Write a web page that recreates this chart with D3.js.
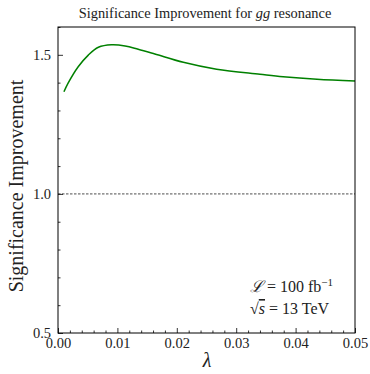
<!DOCTYPE html>
<html>
<head>
<meta charset="utf-8">
<script src="https://cdn.jsdelivr.net/npm/d3@7"></script>
<style>
  html, body { margin: 0; padding: 0; background: #fff; }
  svg { display: block; }
</style>
</head>
<body>
<svg id="chart" width="370" height="374"></svg>
<script>
// Coupling values and significance improvement along the curve
const lambdaValues = [0.001, 0.0017, 0.0034, 0.0051, 0.0068, 0.009, 0.0113, 0.0135,
                      0.0163, 0.0211, 0.0267, 0.034, 0.0379, 0.0436, 0.05];
const improvement = [1.367, 1.398, 1.457, 1.499, 1.527, 1.536, 1.532, 1.520,
                     1.503, 1.473, 1.448, 1.430, 1.421, 1.412, 1.406];
const xTicks = [0.00, 0.01, 0.02, 0.03, 0.04, 0.05];
const yTicks = [0.5, 1.0, 1.5];
const referenceLevel = 1.0;

const SERIF = "'Liberation Serif', 'DejaVu Serif', serif";

const svg = d3.select("#chart");
const margin = { left: 58, right: 15, top: 27, bottom: 41 };
const W = 370, H = 374;
const iw = W - margin.left - margin.right;
const ih = H - margin.top - margin.bottom;

const x = d3.scaleLinear().domain([0, 0.05]).range([0, iw]);
const y = d3.scaleLinear().domain([0.5, 1.6]).range([ih, 0]);

const g = svg.append("g").attr("transform", `translate(${margin.left},${margin.top})`);

// reference line at 1.0
g.append("line")
  .attr("x1", 0).attr("x2", iw)
  .attr("y1", y(referenceLevel)).attr("y2", y(referenceLevel))
  .attr("stroke", "#000").attr("stroke-width", 0.7)
  .attr("stroke-dasharray", "2.5,1.5");

// curve
const line = d3.line()
  .x((d, i) => x(lambdaValues[i]))
  .y(d => y(d))
  .curve(d3.curveCatmullRom.alpha(0.5));
g.append("path")
  .datum(improvement)
  .attr("d", line)
  .attr("fill", "none")
  .attr("stroke", "#008000")
  .attr("stroke-width", 1.5);

// minor ticks
const xMinor = d3.range(0, 0.0501, 0.002).filter(v => Math.abs(v / 0.01 - Math.round(v / 0.01)) > 1e-6);
const yMinor = d3.range(0.5, 1.601, 0.1).filter(v => Math.abs(v / 0.5 - Math.round(v / 0.5)) > 1e-6);

const xAxis = d3.axisBottom(x).tickValues(xTicks).tickFormat(d3.format(".2f"))
  .tickSizeInner(-5).tickSizeOuter(0).tickPadding(5);
const xAxisMinor = d3.axisBottom(x).tickValues(xMinor).tickFormat("").tickSizeInner(-2.5).tickSizeOuter(0);
const yAxis = d3.axisLeft(y).tickValues(yTicks).tickFormat(d3.format(".1f"))
  .tickSizeInner(-5).tickSizeOuter(0).tickPadding(7);
const yAxisMinor = d3.axisLeft(y).tickValues(yMinor).tickFormat("").tickSizeInner(-2.5).tickSizeOuter(0);

function styleAxis(sel) {
  sel.attr("font-family", null).attr("font-size", null);
  sel.select(".domain").remove();
  sel.selectAll("line").attr("stroke", "#000").attr("stroke-width", 0.8);
  sel.selectAll("text")
    .style("font-family", SERIF)
    .style("font-size", "14.5px")
    .attr("fill", "#222");
}
g.append("g").attr("transform", `translate(0,${ih})`).call(xAxis).call(styleAxis);
g.append("g").attr("transform", `translate(0,${ih})`).call(xAxisMinor).call(styleAxis);
g.append("g").call(yAxis).call(styleAxis);
g.append("g").call(yAxisMinor).call(styleAxis);

// frame
g.append("rect").attr("width", iw).attr("height", ih)
  .attr("fill", "none").attr("stroke", "#000").attr("stroke-width", 1);

// title
svg.append("text")
  .attr("x", 205).attr("y", 18)
  .attr("text-anchor", "middle")
  .style("font-family", SERIF).style("font-size", "14.4px").attr("fill", "#222")
  .html('Significance Improvement for <tspan font-style="italic">gg</tspan> resonance');

// axis labels
svg.append("text")
  .attr("x", 207).attr("y", 367)
  .attr("text-anchor", "middle")
  .style("font-family", SERIF).style("font-size", "20px").style("font-style", "italic").attr("fill", "#222")
  .text("λ");
svg.append("text")
  .attr("transform", `translate(23,186) rotate(-90)`)
  .attr("text-anchor", "middle")
  .style("font-family", SERIF).style("font-size", "20px").attr("fill", "#222")
  .text("Significance Improvement");

// annotation
const ann = svg.append("g").style("font-family", SERIF).style("font-size", "16px").attr("fill", "#222");
ann.append("text").attr("x", 250).attr("y", 292)
  .html('<tspan font-style="italic">ℒ</tspan> = 100 fb<tspan dy="-6" style="font-size:11px">−1</tspan>');
ann.append("text").attr("x", 250).attr("y", 314)
  .html('√<tspan font-style="italic" text-decoration="overline">s</tspan> = 13 TeV');
</script>
</body>
</html>
